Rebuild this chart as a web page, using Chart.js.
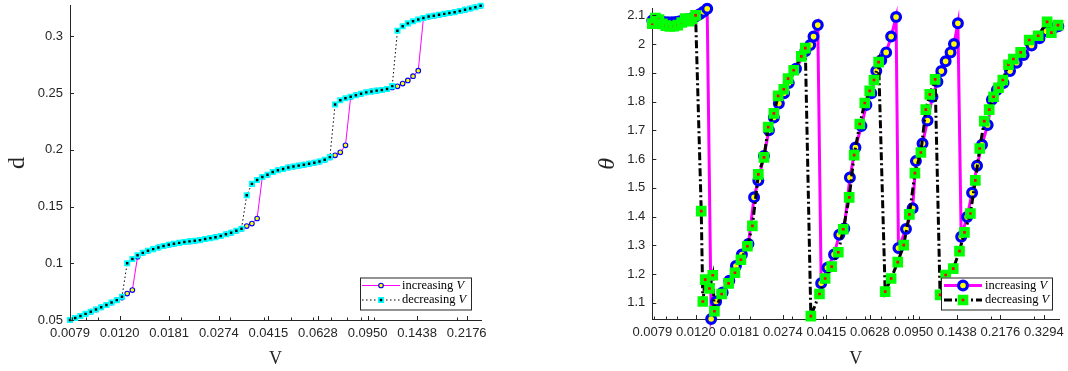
<!DOCTYPE html>
<html>
<head>
<meta charset="utf-8">
<script src="https://cdn.jsdelivr.net/npm/chart.js@4.4.1/dist/chart.umd.min.js"></script>
<style>
    html, body { margin: 0; padding: 0; background: #fff; }
    #wrap { position: relative; width: 1068px; height: 371px; overflow: hidden; }
    canvas { position: absolute; top: 0; }
    #cLeft { left: 0; }
    #cRight { left: 534px; }
</style>
</head>
<body>
<div id="wrap">
    <canvas id="cLeft" width="534" height="371"></canvas>
    <canvas id="cRight" width="534" height="371"></canvas>
</div>
<script>
// Ticks shared by both log axes
var xTickValues = [0.0079, 0.011957, 0.018098, 0.027393, 0.041463, 0.062758,
    0.094991, 0.14378, 0.21762, 0.32939];
var xTickLabels = ['0.0079', '0.0120', '0.0181', '0.0274', '0.0415', '0.0628',
    '0.0950', '0.1438', '0.2176', '0.3294'];
var xMinorTicks = [0.008, 0.009, 0.01, 0.02, 0.03, 0.04, 0.05, 0.06, 0.07,
    0.08, 0.09, 0.1, 0.2, 0.3];
var dTickValues = [0.05, 0.1, 0.15, 0.2, 0.25, 0.3];
var dTickLabels = ['0.05', '0.1', '0.15', '0.2', '0.25', '0.3'];
var thetaTickValues = [1.1, 1.2, 1.3, 1.4, 1.5, 1.6, 1.7, 1.8, 1.9, 2.0, 2.1];
var thetaTickLabels = ['1.1', '1.2', '1.3', '1.4', '1.5', '1.6', '1.7', '1.8',
    '1.9', '2', '2.1'];

// Left panel: d against V
var vLeft = [0.00790, 0.008251, 0.008617, 0.009000, 0.009399, 0.009817,
    0.010253, 0.010708, 0.011183, 0.011680, 0.012198, 0.012740, 0.013305,
    0.013896, 0.014513, 0.015157, 0.015830, 0.016533, 0.017267, 0.018034,
    0.018834, 0.019671, 0.020544, 0.021456, 0.022409, 0.023404, 0.024443,
    0.025528, 0.026662, 0.027846, 0.029082, 0.030373, 0.031722, 0.033130,
    0.034601, 0.036138, 0.037742, 0.039418, 0.041168, 0.042996, 0.044905,
    0.046899, 0.048981, 0.051156, 0.053427, 0.055799, 0.058277, 0.060864,
    0.063567, 0.066389, 0.069337, 0.072416, 0.075631, 0.078989, 0.082496,
    0.086159, 0.089984, 0.093980, 0.098152, 0.102510, 0.107062, 0.111816,
    0.116780, 0.121965, 0.127381, 0.133036, 0.138943, 0.145112, 0.151555,
    0.158284, 0.165312, 0.172652, 0.180318, 0.188324, 0.196686, 0.205419,
    0.214539, 0.224065, 0.234013, 0.244403];
var dIncreasing = [0.0500, 0.0517, 0.0535, 0.0554, 0.0573, 0.0592, 0.0612,
    0.0633, 0.0654, 0.0675, 0.0698, 0.0733, 0.0764, 0.1058, 0.1092, 0.1110,
    0.1125, 0.1140, 0.1152, 0.1163, 0.1172, 0.1180, 0.1187, 0.1193, 0.1198,
    0.1204, 0.1214, 0.1222, 0.1230, 0.1241, 0.1256, 0.1270, 0.1287, 0.1305,
    0.1328, 0.1350, 0.1395, 0.1760, 0.1780, 0.1805, 0.1820, 0.1832, 0.1845,
    0.1853, 0.1861, 0.1869, 0.1878, 0.1887, 0.1897, 0.1912, 0.1933, 0.1952,
    0.1978, 0.2040, 0.2465, 0.2482, 0.2495, 0.2507, 0.2515, 0.2522, 0.2528,
    0.2537, 0.2550, 0.2560, 0.2584, 0.2612, 0.2650, 0.2698, 0.3162, 0.3175,
    0.3183, 0.3191, 0.3199, 0.3206, 0.3213, 0.3224, 0.3236, 0.3246, 0.3257,
    0.3270];
var dDecreasing = [0.0500, 0.0517, 0.0535, 0.0554, 0.0573, 0.0592, 0.0612,
    0.0633, 0.0654, 0.0675, 0.0705, 0.1000, 0.1038, 0.1070, 0.1092, 0.1110,
    0.1125, 0.1140, 0.1152, 0.1163, 0.1172, 0.1180, 0.1187, 0.1193, 0.1198,
    0.1204, 0.1214, 0.1222, 0.1230, 0.1241, 0.1256, 0.1270, 0.1287, 0.1305,
    0.1600, 0.1700, 0.1735, 0.1760, 0.1780, 0.1805, 0.1820, 0.1832, 0.1845,
    0.1853, 0.1861, 0.1869, 0.1878, 0.1887, 0.1897, 0.1912, 0.1936, 0.2400,
    0.2438, 0.2455, 0.2468, 0.2482, 0.2495, 0.2507, 0.2515, 0.2522, 0.2528,
    0.2537, 0.2562, 0.3050, 0.3090, 0.3115, 0.3133, 0.3150, 0.3163, 0.3175,
    0.3183, 0.3191, 0.3199, 0.3206, 0.3213, 0.3224, 0.3236, 0.3246, 0.3257,
    0.3270];

// Right panel: theta against V
var vIncRight = [0.00790, 0.008181, 0.008496, 0.008823, 0.009162, 0.009515,
    0.009881, 0.010261, 0.010656, 0.011066, 0.011492, 0.011934, 0.012393,
    0.012870, 0.013328, 0.013841, 0.014511, 0.015443, 0.016451, 0.017526,
    0.018549, 0.019741, 0.020833, 0.021696, 0.022895, 0.024002, 0.025161,
    0.026378, 0.027731, 0.028990, 0.031058, 0.033942, 0.035584, 0.036707,
    0.038229, 0.039477, 0.041895, 0.044631, 0.046924, 0.049192, 0.051907,
    0.054725, 0.057919, 0.060718, 0.063655, 0.066731, 0.069957, 0.073339,
    0.076885, 0.080600, 0.082443, 0.088579, 0.094365, 0.097356, 0.10371,
    0.10873, 0.11398, 0.11950, 0.12408, 0.12923, 0.13547, 0.13990, 0.14528,
    0.14988, 0.15862, 0.16628, 0.17432, 0.18274, 0.19286, 0.20084, 0.21055,
    0.22429, 0.23871, 0.25431, 0.27168, 0.29299, 0.31598, 0.33759, 0.36065,
    0.37808];
var thetaIncreasing = [2.082, 2.080, 2.078, 2.077, 2.076, 2.076, 2.077, 2.079,
    2.082, 2.086, 2.090, 2.096, 2.104, 2.112, 2.123, 1.044, 1.105, 1.136,
    1.177, 1.228, 1.268, 1.305, 1.467, 1.526, 1.611, 1.700, 1.745, 1.793,
    1.829, 1.865, 1.914, 1.975, 1.997, 2.026, 2.066, 1.168, 1.222, 1.268,
    1.337, 1.359, 1.536, 1.640, 1.715, 1.788, 1.829, 1.906, 1.944, 1.971,
    2.026, 2.094, 1.291, 1.357, 1.429, 1.593, 1.654, 1.734, 1.817, 1.869,
    1.906, 1.940, 1.971, 2.000, 2.072, 1.330, 1.399, 1.483, 1.577, 1.650,
    1.719, 1.806, 1.840, 1.865, 1.906, 1.935, 1.962, 1.995, 2.020, 2.045,
    2.055, 2.062];
var vDecRight = [0.00790, 0.008142, 0.008416, 0.008699, 0.008991, 0.009337,
    0.009697, 0.010069, 0.010456, 0.010808, 0.011171, 0.011547, 0.011934,
    0.012594, 0.012786, 0.013079, 0.013621, 0.014052, 0.014279, 0.015298,
    0.016344, 0.017362, 0.018374, 0.019555, 0.020500, 0.021696, 0.022895,
    0.023843, 0.025161, 0.026204, 0.027653, 0.028799, 0.030391, 0.032683,
    0.033942, 0.035783, 0.038847, 0.040996, 0.043631, 0.046480, 0.048727,
    0.051568, 0.054060, 0.057047, 0.059808, 0.062699, 0.065299, 0.068262,
    0.072649, 0.076885, 0.081901, 0.086679, 0.091472, 0.096435, 0.10206,
    0.10699, 0.11111, 0.11692, 0.12257, 0.12923, 0.13898, 0.14749, 0.15462,
    0.16364, 0.17154, 0.17882, 0.18676, 0.19579, 0.20408, 0.21395, 0.22282,
    0.23514, 0.24650, 0.26410, 0.28670, 0.31213, 0.33983, 0.35390, 0.37702];
var thetaDecreasing = [2.071, 2.090, 2.085, 2.070, 2.064, 2.061, 2.062, 2.066,
    2.075, 2.089, 2.080, 2.088, 2.100, 1.419, 1.105, 1.181, 1.150, 1.196,
    1.071, 1.131, 1.168, 1.205, 1.250, 1.297, 1.368, 1.547, 1.606, 1.711,
    1.759, 1.820, 1.843, 1.880, 1.909, 1.957, 1.986, 1.054, 1.131, 1.185,
    1.226, 1.276, 1.356, 1.467, 1.614, 1.722, 1.795, 1.837, 1.875, 1.937,
    1.139, 1.185, 1.242, 1.301, 1.408, 1.551, 1.623, 1.772, 1.825, 1.877,
    1.128, 1.197, 1.219, 1.280, 1.345, 1.411, 1.526, 1.637, 1.732, 1.772,
    1.817, 1.848, 1.875, 1.928, 1.948, 1.971, 2.014, 2.029, 2.077, 2.040,
    2.066];

var AXIS_COLOR = '#262626';
var TICK_FONT = { family: 'Liberation Sans', size: 13 };

// Junta los arreglos x, y en puntos para Chart.js.
function toPoints(xs, ys) {
    return xs.map(function (x, i) { return { x: x, y: ys[i] }; });
}

// Dibuja un marcador igual que los de la grafica.
function drawMarker(ctx, m, x, y) {
    ctx.save();
    ctx.fillStyle = m.fill;
    ctx.strokeStyle = m.edge;
    ctx.lineWidth = m.edgeWidth;
    ctx.setLineDash([]);
    ctx.beginPath();
    if (m.style === 'rect') {
        var h = m.radius * Math.SQRT1_2;
        ctx.rect(x - h, y - h, 2 * h, 2 * h);
    } else {
        ctx.arc(x, y, m.radius, 0, Math.PI * 2);
    }
    ctx.fill();
    ctx.stroke();
    ctx.restore();
}

// Marcas de los ejes hacia adentro (mayores y menores), estilo MATLAB.
function innerTicksPlugin(yValues) {
    return {
        id: 'innerTicks',
        afterDraw: function (chart) {
            var ctx = chart.ctx, xs = chart.scales.x, ys = chart.scales.y;
            var a = chart.chartArea;
            ctx.save();
            ctx.strokeStyle = AXIS_COLOR;
            ctx.lineWidth = 1;
            ctx.beginPath();
            xTickValues.forEach(function (v) {
                if (v < xs.min || v > xs.max) return;
                var p = Math.round(xs.getPixelForValue(v)) + 0.5;
                ctx.moveTo(p, a.bottom);
                ctx.lineTo(p, a.bottom - 4);
            });
            xMinorTicks.forEach(function (v) {
                if (v < xs.min || v > xs.max) return;
                var p = Math.round(xs.getPixelForValue(v)) + 0.5;
                ctx.moveTo(p, a.bottom);
                ctx.lineTo(p, a.bottom - 2.5);
            });
            yValues.forEach(function (v) {
                var p = Math.round(ys.getPixelForValue(v)) + 0.5;
                ctx.moveTo(a.left, p);
                ctx.lineTo(a.left + 4, p);
            });
            ctx.stroke();
            ctx.restore();
        }
    };
}

// Leyenda con recuadro dentro del area de la grafica.
function boxLegendPlugin(box, entries) {
    return {
        id: 'boxLegend',
        afterDraw: function (chart) {
            var ctx = chart.ctx;
            ctx.save();
            ctx.fillStyle = '#fff';
            ctx.fillRect(box.x, box.y, box.w, box.h);
            ctx.strokeStyle = AXIS_COLOR;
            ctx.lineWidth = 1;
            ctx.strokeRect(box.x + 0.5, box.y + 0.5, box.w, box.h);
            entries.forEach(function (e) {
                var y = box.y + e.dy;
                ctx.strokeStyle = e.lineColor;
                ctx.lineWidth = e.lineWidth;
                ctx.setLineDash(e.dash || []);
                ctx.beginPath();
                ctx.moveTo(box.x + box.line0, y);
                ctx.lineTo(box.x + box.line1, y);
                ctx.stroke();
                drawMarker(ctx, e.marker, box.x + (box.line0 + box.line1) / 2, y);
                ctx.fillStyle = '#000';
                ctx.textBaseline = 'middle';
                ctx.textAlign = 'left';
                ctx.font = '12.5px "Liberation Serif"';
                var tx = box.x + box.text;
                ctx.fillText(e.word + ' ', tx, y);
                var w = ctx.measureText(e.word + ' ').width;
                ctx.font = 'italic 12.5px "Liberation Serif"';
                ctx.fillText('V', tx + w, y);
            });
            ctx.restore();
        }
    };
}

function xAxis(min, max, height) {
    return {
        type: 'logarithmic',
        min: min,
        max: max,
        grid: { display: false, drawTicks: false },
        border: { display: true, color: AXIS_COLOR, width: 1 },
        afterBuildTicks: function (s) {
            s.ticks = xTickValues.filter(function (v) {
                return v >= s.min && v <= s.max;
            }).map(function (v) { return { value: v }; });
        },
        afterFit: function (s) {
            s.height = height;
            s.paddingLeft = 0;
            s.paddingRight = 0;
        },
        ticks: {
            autoSkip: false, maxRotation: 0, padding: 5.5,
            font: TICK_FONT, color: AXIS_COLOR,
            callback: function (value) {
                return xTickLabels[xTickValues.indexOf(value)];
            }
        },
        title: {
            display: true, text: 'V', color: AXIS_COLOR,
            font: { family: 'Liberation Serif', size: 18 },
            padding: { top: 0, bottom: 1.2 }
        }
    };
}

function yAxis(min, max, width, values, labels, title, titleFont, titlePad) {
    return {
        type: 'linear',
        min: min,
        max: max,
        grid: { display: false, drawTicks: false },
        border: { display: true, color: AXIS_COLOR, width: 1 },
        afterBuildTicks: function (s) {
            s.ticks = values.map(function (v) { return { value: v }; });
        },
        afterFit: function (s) {
            s.width = width;
            s.paddingTop = 0;
            s.paddingBottom = 0;
        },
        ticks: {
            autoSkip: false, padding: 7, font: TICK_FONT, color: AXIS_COLOR,
            callback: function (value) { return labels[values.indexOf(value)]; }
        },
        title: {
            display: true, text: title, color: AXIS_COLOR, font: titleFont,
            padding: { top: titlePad, bottom: 0 }
        }
    };
}

var leftChart = new Chart(document.getElementById('cLeft'), {
    type: 'scatter',
    data: {
        datasets: [{
            label: 'decreasing V',
            data: toPoints(vLeft, dDecreasing),
            showLine: true,
            borderColor: '#000',
            borderWidth: 1,
            borderDash: [1.5, 2.5],
            pointStyle: 'rect',
            pointRadius: 3,
            pointBorderWidth: 1.8,
            pointBorderColor: '#00ffff',
            pointBackgroundColor: '#000',
            clip: false,
            order: 1
        }, {
            label: 'increasing V',
            data: toPoints(vLeft, dIncreasing),
            showLine: true,
            borderColor: '#ff00ff',
            borderWidth: 1,
            pointStyle: 'circle',
            pointRadius: 2.3,
            pointBorderWidth: 1.1,
            pointBorderColor: '#0000ff',
            pointBackgroundColor: '#ffff00',
            clip: false,
            order: 2
        }]
    },
    options: {
        responsive: false,
        animation: false,
        events: [],
        devicePixelRatio: 1,
        layout: { padding: { left: 0, right: 53, top: 5, bottom: 0 } },
        plugins: { legend: { display: false }, tooltip: { enabled: false } },
        scales: {
            x: xAxis(0.0079, 0.2452, 51),
            y: yAxis(0.05, 0.327, 70, dTickValues, dTickLabels, 'd',
                { family: 'Liberation Serif', size: 24 }, 3.6)
        }
    },
    plugins: [innerTicksPlugin(dTickValues), boxLegendPlugin(
        { x: 360, y: 277.5, w: 111, h: 32, line0: 2, line1: 40, text: 42 },
        [{ dy: 8, word: 'increasing', lineColor: '#ff00ff', lineWidth: 1,
           marker: { style: 'circle', radius: 2.3, fill: '#ffff00', edge: '#0000ff', edgeWidth: 1.1 } },
         { dy: 22.5, word: 'decreasing', lineColor: '#000', lineWidth: 1, dash: [1.5, 2.5],
           marker: { style: 'rect', radius: 3, fill: '#000', edge: '#00ffff', edgeWidth: 1.8 } }])]
});

var rightChart = new Chart(document.getElementById('cRight'), {
    type: 'scatter',
    data: {
        datasets: [{
            label: 'decreasing V',
            data: toPoints(vDecRight, thetaDecreasing),
            showLine: true,
            borderColor: '#000',
            borderWidth: 3,
            borderDash: [8, 3, 2, 3],
            pointStyle: 'rect',
            pointRadius: 4.7,
            pointBorderWidth: 4,
            pointBorderColor: '#00ff00',
            pointBackgroundColor: '#ff0000',
            clip: false,
            order: 1
        }, {
            label: 'increasing V',
            data: toPoints(vIncRight, thetaIncreasing),
            showLine: true,
            borderColor: '#ff00ff',
            borderWidth: 3,
            pointStyle: 'circle',
            pointRadius: 4.4,
            pointBorderWidth: 3.2,
            pointBorderColor: '#0000ff',
            pointBackgroundColor: '#ffff00',
            clip: false,
            order: 2
        }]
    },
    options: {
        responsive: false,
        animation: false,
        events: [],
        devicePixelRatio: 1,
        layout: { padding: { left: 59, right: 5, top: 5, bottom: 0 } },
        plugins: { legend: { display: false }, tooltip: { enabled: false } },
        scales: {
            x: xAxis(0.0079, 0.3817, 52),
            y: yAxis(1.044, 2.123, 59.3, thetaTickValues, thetaTickLabels, 'θ',
                { family: 'Liberation Serif', size: 24, style: 'italic' }, 0.3)
        }
    },
    plugins: [innerTicksPlugin(thetaTickValues), boxLegendPlugin(
        { x: 407, y: 277.5, w: 111, h: 32, line0: 3, line1: 41, text: 44 },
        [{ dy: 8, word: 'increasing', lineColor: '#ff00ff', lineWidth: 3,
           marker: { style: 'circle', radius: 4.4, fill: '#ffff00', edge: '#0000ff', edgeWidth: 3.2 } },
         { dy: 22.5, word: 'decreasing', lineColor: '#000', lineWidth: 3, dash: [8, 3, 2, 3],
           marker: { style: 'rect', radius: 4.7, fill: '#ff0000', edge: '#00ff00', edgeWidth: 4 } }])]
});
</script>
</body>
</html>
